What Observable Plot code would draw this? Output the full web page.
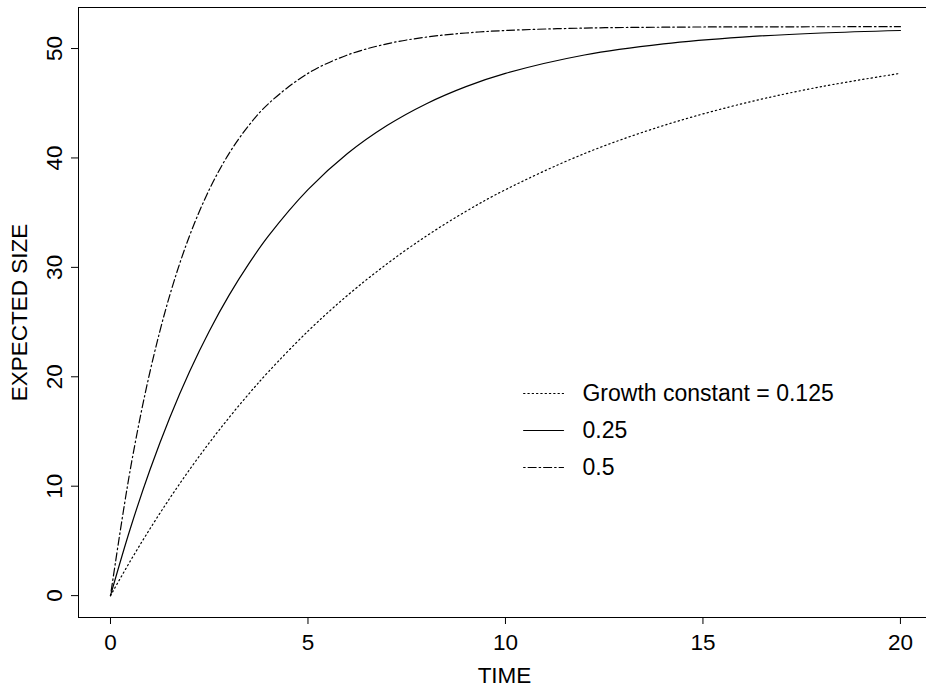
<!DOCTYPE html>
<html><head><meta charset="utf-8">
<script src="https://cdn.jsdelivr.net/npm/d3@7"></script>
<script src="https://cdn.jsdelivr.net/npm/@observablehq/plot@0.6"></script>
<style>body{margin:0;background:#fff}</style></head>
<body><div id="chart"></div>
<script>
// Data
const times = [0, 0.5, 1, 1.5, 2, 2.5, 3, 3.5, 4, 5, 6, 7, 8, 9, 10, 12, 14, 16, 18, 20];
const size0125 = [0, 3.15, 6.11, 8.89, 11.50, 13.96, 16.26, 18.43, 20.46, 24.17, 27.44, 30.32, 32.87, 35.12, 37.10, 40.40, 42.96, 44.96, 46.52, 47.73];
const size025 = [0, 6.11, 11.50, 16.26, 20.46, 24.17, 27.44, 30.32, 32.87, 37.10, 40.40, 42.96, 44.96, 46.52, 47.73, 49.41, 50.43, 51.05, 51.42, 51.65];
const size05 = [0, 11.50, 20.46, 27.44, 32.87, 37.10, 40.40, 42.96, 44.96, 47.73, 49.41, 50.43, 51.05, 51.42, 51.65, 51.87, 51.95, 51.98, 51.99, 52.00];
const seriesLabels = ["Growth constant = 0.125", "0.25", "0.5"];
const xTicks = [0, 5, 10, 15, 20];
const yTicks = [0, 10, 20, 30, 40, 50];

// Styling / layout
const dashes = ["1.3,3", null, "1.5,3,8,3"];
const seriesValues = [size0125, size025, size05];
const xDomain = [-0.81, 20.66];
const yDomain = [-2.0, 53.75];
const legendX1 = 10.46, legendX2 = 11.47, legendTextX = 11.95;
const legendRowsY = [18.47, 15.09, 11.71];
const FONT = 22.5;
const LEGEND_FONT = 23;

const marks = [];
// box (left, bottom, top)
marks.push(Plot.ruleY([yDomain[0], yDomain[1]], {stroke: "black", strokeWidth: 1}));
marks.push(Plot.ruleX([xDomain[0]], {stroke: "black", strokeWidth: 1}));

seriesValues.forEach((vals, i) => {
  const data = times.map((t, j) => ({t, v: vals[j]}));
  marks.push(Plot.line(data, {x: "t", y: "v", stroke: "black", strokeWidth: 1.2,
    strokeDasharray: dashes[i] || undefined, curve: "catmull-rom"}));
  marks.push(Plot.line([{x: legendX1, y: legendRowsY[i]}, {x: legendX2, y: legendRowsY[i]}],
    {x: "x", y: "y", stroke: "black", strokeWidth: 1.2, strokeDasharray: dashes[i] || undefined}));
  marks.push(Plot.text([seriesLabels[i]], {x: legendTextX, y: legendRowsY[i], text: d => d,
    textAnchor: "start", lineAnchor: "middle", fontSize: LEGEND_FONT, fill: "black"}));
});

marks.push(Plot.axisX({ticks: xTicks, tickSize: 7, tickPadding: 10, label: null, fontSize: FONT, tickFormat: d => String(d)}));
marks.push(Plot.axisY({ticks: yTicks, tickSize: 7, tickPadding: 10, label: null, fontSize: FONT, tickRotate: -90, tickFormat: d => String(d)}));
marks.push(Plot.text(["TIME"], {frameAnchor: "bottom", text: d => d, dy: 65, dx: 2, lineAnchor: "bottom", textAnchor: "middle", fontSize: FONT, fill: "black"}));
marks.push(Plot.text(["EXPECTED SIZE"], {frameAnchor: "left", text: d => d, dx: -52, rotate: -90, lineAnchor: "bottom", textAnchor: "middle", fontSize: FONT, fill: "black"}));

const chart = Plot.plot({
  width: 926, height: 687,
  marginLeft: 78, marginRight: 0, marginTop: 7, marginBottom: 70,
  x: {domain: xDomain},
  y: {domain: yDomain},
  style: {fontFamily: "'Liberation Sans', Arial, sans-serif", fontSize: FONT + "px", background: "white", color: "black", overflow: "visible"},
  marks
});
document.getElementById("chart").appendChild(chart);
</script></body></html>
